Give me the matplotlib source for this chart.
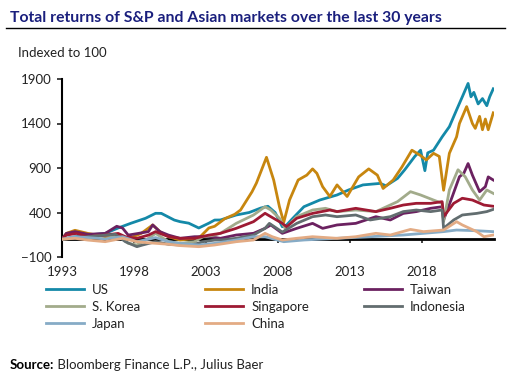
import matplotlib
matplotlib.use('Agg')
import matplotlib.pyplot as plt
from matplotlib.lines import Line2D

plt.rcParams['font.family'] = ['Lato', 'DejaVu Sans']

# values (x in years, y indexed to 100)
us_x = [1993.0, 1994.0, 1994.8, 1996.0, 1996.9, 1997.8, 1998.8, 1999.5, 1999.9, 2000.8,
        2001.2, 2001.8, 2002.5, 2003.2, 2003.6, 2004.0, 2005.1, 2006.0, 2006.8, 2007.3,
        2007.8, 2008.3, 2008.6, 2009.0, 2009.8, 2010.9, 2012.1, 2012.9, 2013.9, 2015.1,
        2015.5, 2016.3, 2016.8, 2017.5, 2017.9, 2018.2, 2018.4, 2018.8, 2019.4, 2019.9,
        2020.4, 2020.8, 2021.2, 2021.4, 2021.6, 2021.9, 2022.2, 2022.5, 2022.7, 2022.95]
us_y = [100, 130, 146, 165, 226, 280, 335, 391, 390, 315,
        297, 280, 226, 280, 315, 316, 372, 400, 450, 470,
        400, 240, 260, 330, 465, 540, 597, 653, 710, 727,
        700, 783, 880, 1030, 1100, 870, 1070, 1100, 1250, 1364,
        1552, 1700, 1850, 1700, 1750, 1620, 1680, 1600, 1700, 1790]

india_x = [1993.0, 1993.3, 1993.9, 1994.8, 1996.0, 1996.7, 1997.4, 1997.8, 1998.5, 1999.3,
           1999.8, 2000.4, 2001.2, 2002.2, 2002.6, 2003.2, 2003.6, 2004.3, 2005.0, 2005.4,
           2006.2, 2006.5, 2007.2, 2007.7, 2008.1, 2008.4, 2008.8, 2009.4, 2010.0, 2010.4,
           2010.7, 2011.1, 2011.6, 2012.1, 2012.8, 2013.0, 2013.6, 2014.3, 2014.9, 2015.3,
           2016.0, 2016.6, 2017.3, 2017.9, 2018.3, 2018.8, 2019.2, 2019.5, 2019.9, 2020.4,
           2020.6, 2021.1, 2021.5, 2021.7, 2022.0, 2022.2, 2022.4, 2022.6, 2022.95]
india_y = [100, 165, 200, 165, 128, 146, 110, 118, 165, 260,
           185, 128, 90, 110, 128, 226, 245, 330, 380, 428,
           634, 730, 1020, 765, 465, 290, 540, 765, 820, 890,
           840, 690, 580, 710, 580, 635, 800, 890, 820, 670,
           765, 910, 1100, 1040, 990, 1065, 1030, 650, 1065, 1250,
           1400, 1590, 1400, 1345, 1480, 1330, 1450, 1330, 1520]

taiwan_x = [1993.0, 1993.3, 1993.9, 1994.8, 1996.0, 1996.8, 1997.2, 1997.6, 1998.3, 1999.0,
            1999.3, 1999.8, 2000.4, 2001.2, 2002.2, 2003.2, 2004.0, 2005.1, 2006.3, 2007.1,
            2007.5, 2008.3, 2009.3, 2010.4, 2011.1, 2012.1, 2013.4, 2014.8, 2015.8, 2016.7,
            2017.6, 2018.6, 2019.4, 2019.5, 2020.1, 2020.6, 2020.9, 2021.2, 2021.5, 2022.0,
            2022.4, 2022.6, 2022.95]
taiwan_y = [100, 165, 185, 155, 165, 245, 226, 146, 165, 185,
            260, 185, 146, 110, 128, 130, 110, 147, 166, 222,
            260, 166, 222, 278, 222, 260, 278, 353, 316, 390,
            410, 447, 465, 316, 578, 802, 840, 950, 820, 634,
            690, 800, 765]

korea_x = [1993.0, 1994.8, 1996.2, 1997.2, 1997.6, 1998.2, 1999.0, 1999.5, 2000.4, 2001.2,
           2002.2, 2002.8, 2003.6, 2004.0, 2005.1, 2006.3, 2007.1, 2007.5, 2008.1, 2008.5,
           2009.3, 2010.4, 2011.3, 2012.1, 2013.4, 2014.8, 2016.3, 2017.2, 2017.9, 2018.8,
           2019.4, 2019.5, 2019.9, 2020.5, 2021.0, 2021.5, 2022.0, 2022.5, 2022.95]
korea_y = [100, 128, 146, 110, 53, 35, 110, 165, 72, 53,
           72, 128, 146, 166, 278, 372, 465, 428, 335, 220,
           353, 428, 447, 410, 428, 410, 522, 634, 597, 540,
           503, 297, 653, 880, 802, 653, 540, 653, 615]

singapore_x = [1993.0, 1993.3, 1994.0, 1994.8, 1996.0, 1996.9, 1997.4, 1998.2, 1999.0, 1999.5,
               2000.4, 2001.2, 2002.2, 2003.2, 2004.0, 2005.1, 2006.3, 2007.1, 2007.5, 2008.3,
               2008.6, 2009.3, 2010.4, 2011.6, 2012.1, 2013.4, 2014.8, 2015.8, 2016.7, 2017.6,
               2018.6, 2019.4, 2019.5, 2020.2, 2020.8, 2021.5, 2022.3, 2022.95]
singapore_y = [100, 146, 165, 128, 146, 165, 128, 110, 146, 185,
               128, 110, 110, 146, 166, 222, 297, 391, 353, 278,
               240, 335, 390, 428, 410, 447, 410, 447, 484, 503,
               503, 522, 353, 503, 560, 540, 484, 470]

indonesia_x = [1993.0, 1994.8, 1996.7, 1997.4, 1998.2, 1998.6, 1999.5, 2000.4, 2001.2, 2002.2,
               2002.8, 2003.6, 2004.0, 2005.1, 2006.3, 2007.1, 2007.4, 2008.3, 2009.3, 2010.4,
               2011.3, 2012.1, 2013.4, 2014.4, 2015.8, 2016.7, 2017.6, 2018.6, 2019.4, 2019.5,
               2020.2, 2020.8, 2021.8, 2022.5, 2022.95]
indonesia_y = [100, 128, 155, 72, 16, 35, 72, 43, 35, 43,
               72, 90, 91, 110, 147, 222, 278, 180, 278, 353,
               372, 353, 372, 316, 353, 410, 428, 410, 428, 222,
               316, 372, 390, 410, 435]

japan_x = [1993.0, 1993.9, 1994.8, 1996.0, 1997.2, 1998.2, 1999.5, 2000.4, 2001.2, 2002.5,
           2003.6, 2005.1, 2006.3, 2007.1, 2008.4, 2009.8, 2012.1, 2014.4, 2016.7, 2018.1,
           2019.5, 2020.4, 2021.8, 2022.95]
japan_y = [100, 128, 118, 103, 128, 72, 118, 72, 53, 35,
           53, 91, 128, 128, 72, 91, 110, 128, 147, 166,
           185, 203, 195, 185]

china_x = [1993.0, 1993.9, 1994.8, 1996.0, 1997.2, 1998.2, 1999.0, 2000.4, 2001.2, 2002.5,
           2003.6, 2005.1, 2006.3, 2007.1, 2007.6, 2008.3, 2009.3, 2010.4, 2012.1, 2013.4,
           2014.8, 2015.8, 2017.2, 2018.1, 2019.5, 2020.4, 2020.8, 2021.8, 2022.3, 2022.95]
china_y = [100, 110, 90, 72, 110, 72, 60, 43, 28, 16,
           35, 72, 91, 166, 128, 91, 110, 128, 110, 128,
           166, 147, 210, 185, 203, 297, 260, 185, 128, 147]

names = ['US', 'India', 'Taiwan', 'S. Korea', 'Singapore', 'Indonesia', 'Japan', 'China']
colors = ['#1489a8', '#c7860f', '#6b2160', '#a2ab8b', '#9e1a33', '#626d6f', '#86abc6', '#e3ab84']
xs = [us_x, india_x, taiwan_x, korea_x, singapore_x, indonesia_x, japan_x, china_x]
ys = [us_y, india_y, taiwan_y, korea_y, singapore_y, indonesia_y, japan_y, china_y]

yticks = [-100, 400, 900, 1400, 1900]
xticks = [1993, 1998, 2003, 2008, 2013, 2018]

fig = plt.figure(figsize=(5.15, 3.75), dpi=100)
ax = fig.add_axes([62/515, 1 - 257/375, 432/515, 178/375])

handles = []
for x, y, c, n in zip(xs, ys, colors, names):
    h, = ax.plot(x, y, color=c, lw=2, label=n, zorder=3, solid_joinstyle='round')
    handles.append(h)

ax.set_xlim(1993, 2023)
ax.set_ylim(-100, 1900)
ax.set_yticks(yticks)
ax.set_xticks(xticks)
ax.set_xticklabels([str(t) for t in xticks])

for s in ['top', 'right']:
    ax.spines[s].set_visible(False)
# x axis line sits at the index base of 100
ax.spines['bottom'].set_position(('data', 100))
ax.spines['bottom'].set_linewidth(2)
ax.spines['left'].set_linewidth(1.5)
ax.tick_params(axis='y', direction='out', length=3.5, width=1.2, labelsize=9.5,
               pad=4, colors='#222222')
ax.tick_params(axis='x', direction='out', length=3, width=1.2, labelsize=9.5,
               pad=16, colors='#222222')

# title and rule
fig.text(10/515, 1 - 18/375, 'Total returns of S&P and Asian markets over the last 30 years',
         fontsize=11.3, fontweight='bold', color='#1a1f7d', va='center', ha='left')
fig.add_artist(Line2D([6/515, 505/515], [1 - 28/375, 1 - 28/375], color='black', lw=1))
fig.text(18/515, 1 - 53/375, 'Indexed to 100', fontsize=9.5, color='#222222',
         va='center', ha='left')

# legend, three columns, filled row by row
col_x = [46, 205, 364]
for i, cx in enumerate(col_x):
    hs = handles[i::3]
    leg = fig.legend(handles=hs, labels=[h.get_label() for h in hs], loc='upper left',
                     bbox_to_anchor=(cx/515, 1 - 284/375), frameon=False, fontsize=9.5,
                     handlelength=2.9, handletextpad=0.6, labelspacing=0.38,
                     borderpad=0, borderaxespad=0)
    for line in leg.get_lines():
        line.set_linewidth(2)
    for t in leg.get_texts():
        t.set_color('#222222')

src = fig.text(10/515, 1 - 365/375, 'Source:', fontsize=9.5, fontweight='bold',
               color='black', va='center', ha='left')
ax.annotate(' Bloomberg Finance L.P., Julius Baer', xy=(1, 0.5), xycoords=src,
            fontsize=9.5, color='#222222', va='center', ha='left', annotation_clip=False)

fig.savefig('out.png', dpi=100)
